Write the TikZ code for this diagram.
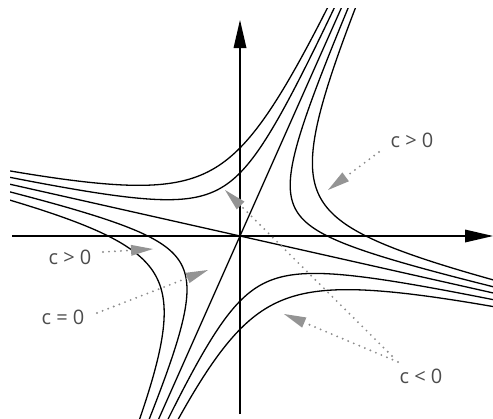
\documentclass[tikz,border=0pt]{standalone}
\usepackage{fontspec}
\setmainfont{Open Sans}
\usetikzlibrary{arrows.meta}
\begin{document}
\begin{tikzpicture}[x=1pt,y=-1pt,
  curve/.style={line width=1.3pt, black},
  axis/.style={line width=2.6pt, -{Triangle[length=28pt,width=13pt,line width=0pt]}},
  lab/.style={text=black!70, font=\fontsize{20}{20}\selectfont, inner sep=0pt},
  pointer/.style={draw=black!45, line width=2.1pt, line cap=round, dash pattern=on 0pt off 6pt,
    -{Triangle[length=22pt,width=11pt,line width=0pt,fill=black!42]}}]
\useasboundingbox (0,0) rectangle (493,418);
% hyperbolas and asymptotes
\begin{scope}
\clip (10,8) rectangle (493,418);
\foreach \r/\ss/\st in {25.1/1/1, 36.2/1/1, 26.5/-1/-1, 37.9/-1/-1, 25.5/1/-1, 35.6/1/-1, 26.3/-1/1, 37.7/-1/1}
  \draw[curve] plot[domain=-3:3, samples=160, variable=\u, smooth]
    ({240+\ss*\r*exp(\u)+\st*\r*exp(-\u)}, {236-2.25*\ss*\r*exp(\u)+0.225*\st*\r*exp(-\u)});
\coordinate (sA) at (150,438.5);
\coordinate (sB) at (350,-11.5);
\coordinate (hA) at (0,182);
\coordinate (hB) at (500,294.5);
\draw[curve] (sA) -- (sB);
\draw[curve] (hA) -- (hB);
\end{scope}
% axes
\coordinate (xs) at (12,236);
\coordinate (xe) at (493,236);
\coordinate (ys) at (240,414);
\coordinate (ye) at (240,20);
\draw[axis] (xs) -- (xe);
\draw[axis] (ys) -- (ye);
% labels
\node[lab] (l1) at (412,140) {c > 0};
\node[lab] (l2) at (70,257) {c > 0};
\node[lab] (l3) at (63,317) {c = 0};
\node[lab] (l4) at (421,376) {c < 0};
% pointers
\coordinate (a1s) at (379,152); \coordinate (a1t) at (328,190);
\coordinate (a2s) at (103,252); \coordinate (a2t) at (153,249);
\coordinate (a3s) at (97,313);  \coordinate (a3t) at (208,270);
\coordinate (a4s) at (392,356); \coordinate (a4t) at (225,190);
\coordinate (a5s) at (398,362); \coordinate (a5t) at (284,314);
\draw[pointer] (a1s) -- (a1t);
\draw[pointer] (a2s) -- (a2t);
\draw[pointer] (a3s) -- (a3t);
\draw[pointer] (a4s) -- (a4t);
\draw[pointer] (a5s) -- (a5t);
\end{tikzpicture}
\end{document}
